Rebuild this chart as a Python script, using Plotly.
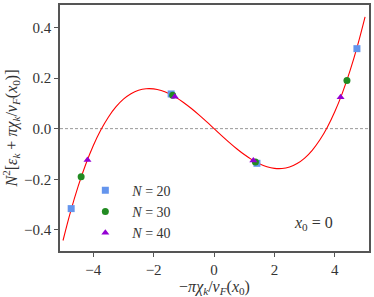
import plotly.graph_objects as go

# Curve
curve_x = [-5.0, -4.75, -4.5, -4.25, -4.0, -3.75, -3.5, -3.25, -3.0, -2.75, -2.5, -2.25, -2.0,
           -1.75, -1.5, -1.25, -1.0, -0.75, -0.5, -0.25, 0.0, 0.25, 0.5, 0.75, 1.0, 1.25, 1.5,
           1.75, 2.0, 2.25, 2.5, 2.75, 3.0, 3.25, 3.5, 3.75, 4.0, 4.25, 4.5, 4.75, 5.0]
curve_y = [-0.442, -0.328, -0.228, -0.1415, -0.0676, -0.0056, 0.0452, 0.0856, 0.1163, 0.138,
           0.1515, 0.1576, 0.157, 0.1504, 0.1386, 0.1224, 0.1024, 0.0794, 0.0542, 0.0275, 0.0,
           -0.0275, -0.0542, -0.0794, -0.1024, -0.1224, -0.1386, -0.1504, -0.157, -0.1576,
           -0.1515, -0.138, -0.1163, -0.0856, -0.0452, 0.0056, 0.0676, 0.1415, 0.228, 0.328, 0.442]

# Data points
n20_x = [-4.73, -1.42, 1.42, 4.73]
n20_y = [-0.316, 0.137, -0.137, 0.316]
n30_x = [-4.40, -1.37, 1.37, 4.40]
n30_y = [-0.190, 0.132, -0.132, 0.190]
n40_x = [-4.19, -1.30, 1.30, 4.19]
n40_y = [-0.124, 0.126, -0.126, 0.124]

x_ticks = [-4, -2, 0, 2, 4]
y_ticks = [-0.4, -0.2, 0.0, 0.2, 0.4]

FONT = "Liberation Serif, Times New Roman, serif"
TXT = "#333333"
LINE = "#555555"

fig = go.Figure()
fig.add_trace(go.Scatter(x=curve_x, y=curve_y, mode="lines", line=dict(color="red", width=1.1, shape="spline"),
                         showlegend=False, hoverinfo="skip"))
fig.add_trace(go.Scatter(x=n20_x, y=n20_y, mode="markers", name="\u2002<i>N</i> = 20",
                         marker=dict(symbol="square", color="#6495ED", size=7)))
fig.add_trace(go.Scatter(x=n30_x, y=n30_y, mode="markers", name="\u2002<i>N</i> = 30",
                         marker=dict(symbol="circle", color="#228B22", size=7)))
fig.add_trace(go.Scatter(x=n40_x, y=n40_y, mode="markers", name="\u2002<i>N</i> = 40",
                         marker=dict(symbol="triangle-up", color="#9400D3", size=7)))

fig.add_shape(type="line", xref="paper", yref="y", x0=0, x1=1, y0=0, y1=0,
              line=dict(color="#999999", width=1, dash="3px,2px"), layer="below")

fig.add_annotation(x=3.29, y=-0.375, xref="x", yref="y", showarrow=False,
                   text="<i>x</i><sub>0</sub> = 0", font=dict(family=FONT, size=16, color=TXT))

fig.update_layout(
    width=374, height=297,
    margin=dict(l=60, r=3, t=3, b=42),
    paper_bgcolor="white", plot_bgcolor="white",
    font=dict(family=FONT, size=15, color=TXT),
    legend=dict(x=0.082, y=0.31, xanchor="left", yanchor="top", bgcolor="rgba(0,0,0,0)",
                font=dict(family=FONT, size=14, color=TXT), itemwidth=30),
    xaxis=dict(range=[-5.1, 5.13], tickvals=x_ticks, ticktext=["−4", "−2", "0", "2", "4"],
               tickfont=dict(family=FONT, size=15, color=TXT),
               showgrid=False, zeroline=False, showline=True, mirror=True, linecolor=LINE, linewidth=1.5,
               ticks="outside", ticklen=4, tickcolor=LINE,
               title=dict(text="−<i>πχ<sub>k</sub></i>/<i>v<sub>F</sub></i>(<i>x</i><sub>0</sub>)",
                          standoff=5, font=dict(family=FONT, size=16, color=TXT))),
    yaxis=dict(range=[-0.4835, 0.4885], tickvals=y_ticks, ticktext=["−0.4", "−0.2", "0.0", "0.2", "0.4"],
               tickfont=dict(family=FONT, size=15, color=TXT),
               showgrid=False, zeroline=False, showline=True, mirror=True, linecolor=LINE, linewidth=1.5,
               ticks="outside", ticklen=4, tickcolor=LINE,
               title=dict(text="<i>N</i><sup>2</sup>[<i>ε<sub>k</sub></i> + <i>πχ<sub>k</sub></i>/<i>v<sub>F</sub></i>(<i>x</i><sub>0</sub>)]",
                          standoff=4, font=dict(family=FONT, size=16, color=TXT))),
)

fig.write_html("out.html", config={"displayModeBar": False},
               post_script="document.body.style.margin='0';document.body.style.overflow='hidden';")
